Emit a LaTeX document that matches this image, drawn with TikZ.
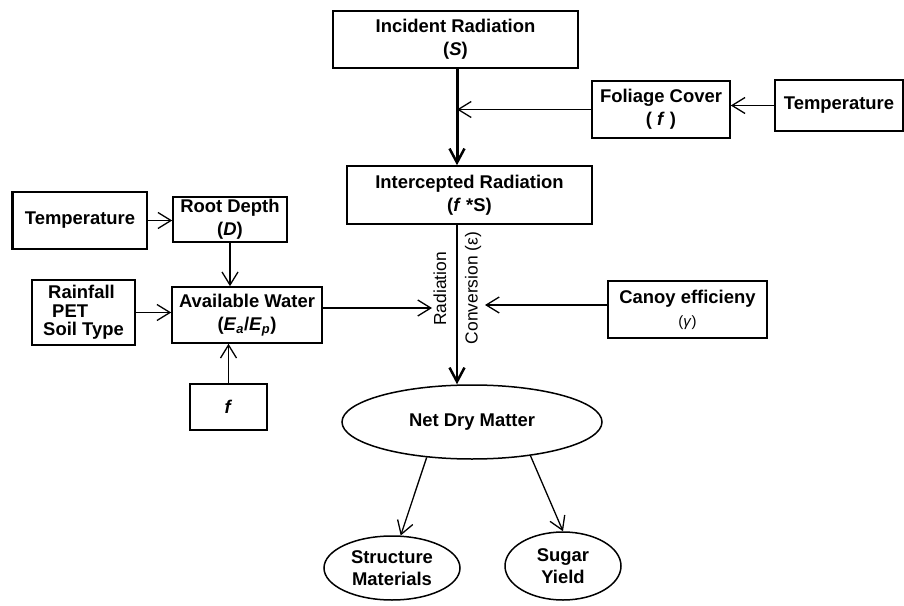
\documentclass[tikz,border=0pt]{standalone}
\usepackage{fontspec}
\setmainfont{Liberation Sans}
\usetikzlibrary{arrows.meta,shapes.geometric}
\tikzset{
  box/.style={draw, line width=1.6bp, rectangle, inner sep=0pt, align=center,
    font=\fontsize{18.5}{23}\selectfont\bfseries},
  oval/.style={draw, line width=1.5bp, ellipse, inner sep=0pt, align=center,
    font=\fontsize{18.5}{22}\selectfont\bfseries},
  thinarrow/.style={line width=1.3bp, -{Straight Barb[length=13bp,width=16bp,line width=1.3bp]}},
  mainarrow/.style={line width=3bp, -{Straight Barb[length=14bp,width=15bp,line width=2.5bp]}},
  vlabel/.style={rotate=90, font=\fontsize{17.5}{20}\selectfont, inner sep=0pt}
}
\begin{document}
\begin{tikzpicture}[x=1bp,y=-1bp]
\useasboundingbox (0,0) rectangle (904,606);
\fill[white] (0,0) rectangle (904,606);
\coordinate (mx) at (457,0);
% nodes
\node[box, minimum width=245bp, minimum height=57bp] (inc) at (455.5,39.5) {Incident Radiation\\(\textit{S})};
\node[box, minimum width=138bp, minimum height=57bp] (fol) at (661,109.5) {Foliage Cover\\( \textit{f} )};
\node[box, minimum width=128bp, minimum height=51bp] (tempr) at (839,105.5) {Temperature};
\node[box, minimum width=245bp, minimum height=58bp] (int) at (469.5,195) {Intercepted Radiation\\(\textit{f} *S)};
\node[box, minimum width=134bp, minimum height=57bp] (templ) at (80,220.5) {Temperature};
\node[box, minimum width=114bp, minimum height=45bp] (rd) at (230,219.5) {Root Depth\\(\textit{D})};
\node[box, minimum width=103bp, minimum height=65bp, align=left, font=\fontsize{18.5}{18.5}\selectfont\bfseries] (rf) at (83.5,312.5) {\hspace{5bp}Rainfall\\\hspace{9bp}PET\\Soil Type};
\node[box, minimum width=150bp, minimum height=56bp] (aw) at (247,315) {Available Water\\(\textit{E}\textsubscript{\textit{a}}/\textit{E}\textsubscript{\textit{p}})};
\node[box, minimum width=77bp, minimum height=46bp] (f) at (228.5,407) {\textit{f}};
\node[box, minimum width=159bp, minimum height=57bp] (can) at (687.5,309.5) {Canoy efficieny\\{\fontsize{15}{18}\selectfont\mdseries(\textit{γ})}};
\node[oval, minimum width=260bp, minimum height=74bp] (ndm) at (472,422) {Net Dry Matter};
\node[oval, minimum width=136bp, minimum height=64bp] (sm) at (392,568) {Structure\\Materials};
\node[oval, minimum width=116bp, minimum height=68bp] (sy) at (563,566) {Sugar\\Yield};
\draw[line width=3bp] (templ.north west) -- (templ.south west);
% labels
\node[vlabel] (lrad) at (440,289) {Radiation};
\node[vlabel] (lconv) at (473,288) {Conversion (ε)};
% free ends
\coordinate (awtip) at (432,308);
\coordinate (cantip) at (485,305);
% connectors
\draw[mainarrow] (inc.south -| mx) -- (int.north -| mx);
\draw[thinarrow] (fol.west) -- (fol.west -| mx);
\draw[thinarrow] (tempr.west) -- (tempr.west -| fol.east);
\draw[mainarrow, line width=2bp] (int.south -| mx) -- (mx |- ndm.north);
\draw[thinarrow] (aw.east |- awtip) -- (awtip);
\draw[thinarrow] (can.west |- cantip) -- (cantip);
\draw[thinarrow] (templ.east) -- (templ.east -| rd.west);
\draw[thinarrow] (rf.east) -- (rf.east -| aw.west);
\draw[thinarrow] (rd.south) -- (rd.south |- aw.north);
\draw[thinarrow] (f.north) -- (f.north |- aw.south);
\draw[thinarrow] (ndm.218) -- (sm.75);
\draw[thinarrow] (ndm.330) -- (sy.90);
\end{tikzpicture}
\end{document}
